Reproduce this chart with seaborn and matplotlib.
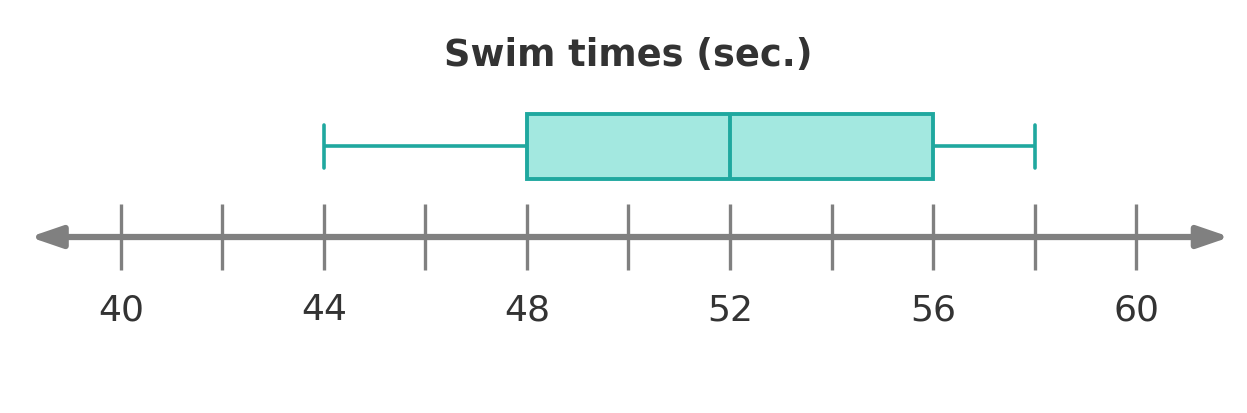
import numpy as np
import pandas as pd
import matplotlib
matplotlib.use('Agg')
import matplotlib.pyplot as plt
import seaborn as sns

# 데이터
swim_times = [44, 48, 52, 56, 58]        # 최소, Q1, 중앙값, Q3, 최대
minor_ticks = [40, 42, 44, 46, 48, 50, 52, 54, 56, 58, 60]
label_ticks = [40, 44, 48, 52, 56, 60]
title = 'Swim times (sec.)'

teal = '#1fa89f'
fill = '#a3e8e0'
gray = '#808080'
text_c = '#333333'

sns.set_style('white')
plt.rcParams['font.family'] = ['DejaVu Sans']

fig = plt.figure(figsize=(12.47, 4.13), dpi=100)
ax = fig.add_axes([0, 0, 1, 1])

df = pd.DataFrame({'time': swim_times, 'g': ['a'] * len(swim_times)})
sns.boxplot(data=df, x='time', y='g', orient='h', whis=10, width=0.8,
            color=fill, linecolor=teal, linewidth=2.8, showfliers=False,
            capwidths=0.52, ax=ax,
            boxprops=dict(facecolor=fill, edgecolor=teal),
            medianprops=dict(color=teal, linewidth=2.8),
            whiskerprops=dict(color=teal, linewidth=2.6),
            capprops=dict(color=teal, linewidth=2.6))

# 픽셀 기준 좌표 맞추기
ax.set_xlim(37.616, 62.187)
ax.set_ylim(3.28, -1.803)

# 수직선 (화살표)
line_y = 1.114
head = '-|>,head_length=1.9,head_width=0.65'
ax.annotate('', xy=(38.2, line_y), xytext=(50, line_y),
            arrowprops=dict(arrowstyle=head, color=gray, lw=4.5, shrinkA=0, shrinkB=0))
ax.annotate('', xy=(61.85, line_y), xytext=(50, line_y),
            arrowprops=dict(arrowstyle=head, color=gray, lw=4.5, shrinkA=0, shrinkB=0))
ax.vlines(minor_ticks, 0.708, 1.52, color=gray, lw=2.4)
for t in label_ticks:
    ax.text(t, 2.018, str(t), ha='center', va='center', fontsize=26, color=text_c)

ax.text(50.0, -1.126, title, ha='center', va='center', fontsize=26.5,
        fontweight='bold', color=text_c)

ax.set_axis_off()
fig.savefig('out.png', dpi=100)
